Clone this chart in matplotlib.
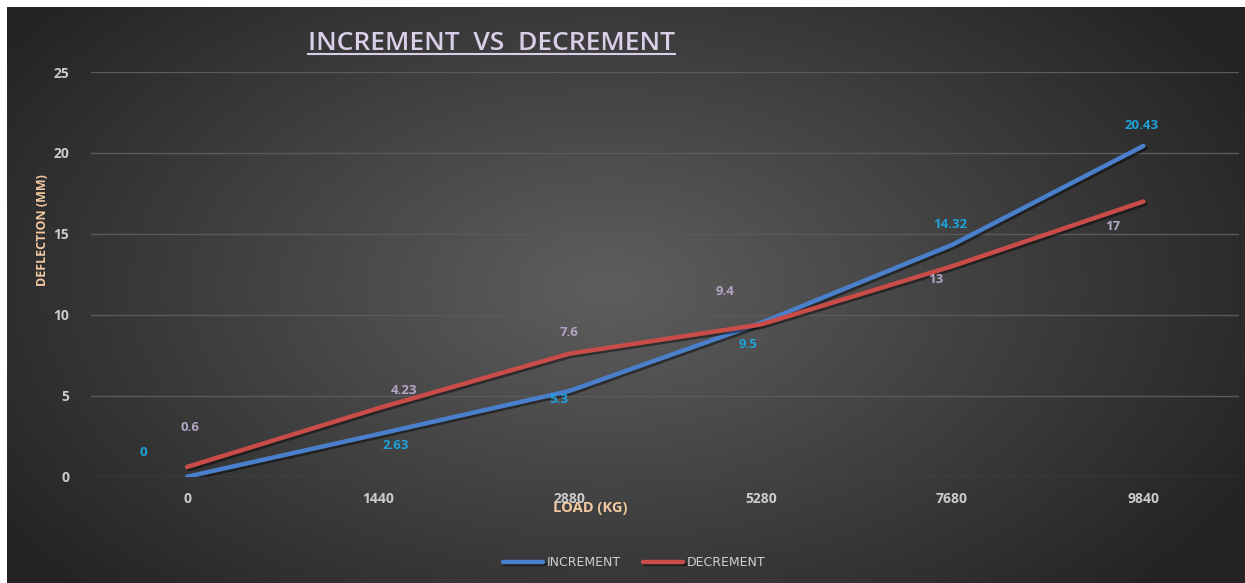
import numpy as np
import matplotlib.pyplot as plt
import matplotlib.patheffects as pe
from matplotlib.lines import Line2D

loads = ['0', '1440', '2880', '5280', '7680', '9840']
increment = [0, 2.63, 5.3, 9.5, 14.32, 20.43]
decrement = [0.6, 4.23, 7.6, 9.4, 13, 17]

# label offsets in pixels (Excel-ish placement)
inc_off = [(-44, 24), (17, -11), (-11, -9), (-13, -22), (-2, 20), (-2, 20)]
dec_off = [(3, 39), (26, 18), (-1, 21), (-36, 33), (-16, -13), (-31, -25)]

W, H = 1245, 583
fig = plt.figure(figsize=(W / 100, H / 100), dpi=100)
fig.patch.set_facecolor('white')

# radial gradient background
bg = fig.add_axes([7 / W, 0, 1 - 7 / W, 1 - 7 / H])
yy, xx = np.mgrid[0:576, 0:1238]
r = np.sqrt(((xx - 600) / 700.0) ** 2 + ((yy - 280) / 420.0) ** 2)
shade = np.clip(0.37 - 0.22 * r, 0.14, 0.37)
bg.imshow(np.dstack([shade] * 3), aspect='auto', extent=(0, 1, 0, 1))
bg.axis('off')

ax = fig.add_axes([91.4 / W, 1 - 476.7 / H, 1147.6 / W, 404.7 / H])
ax.patch.set_alpha(0)
x = np.arange(len(loads))

shadow = [pe.SimpleLineShadow(offset=(1.5, -1.5), alpha=0.45, shadow_color='black'), pe.Normal()]
ax.plot(x, increment, color='#4a7fcc', lw=3.2, label='INCREMENT', path_effects=shadow, solid_capstyle='round', zorder=3)
ax.plot(x, decrement, color='#c94c48', lw=3.2, label='DECREMENT', path_effects=shadow, solid_capstyle='round', zorder=3)

for i, v in enumerate(increment):
    ax.annotate(f'{v:g}', (x[i], v), xytext=inc_off[i], textcoords='offset pixels',
                ha='center', va='center', color='#1ea3dc', fontsize=9.5,
                fontweight='bold', family='Open Sans')
for i, v in enumerate(decrement):
    ax.annotate(f'{v:g}', (x[i], v), xytext=dec_off[i], textcoords='offset pixels',
                ha='center', va='center', color='#b3a5c6', fontsize=9.5,
                fontweight='bold', family='Open Sans')

ax.set_xlim(-0.5, len(loads) - 0.5)
ax.set_ylim(0, 25)
ax.set_yticks(range(0, 26, 5))
ax.set_xticks(x)
ax.set_xticklabels(loads)
ax.grid(axis='y', color='#5a5a5a', lw=1)
ax.set_axisbelow(True)
for s in ax.spines.values():
    s.set_visible(False)
ax.tick_params(length=0, colors='#cccccc', labelsize=10)
ax.tick_params(axis='y', pad=16)
ax.tick_params(axis='x', pad=11)
for lab in ax.get_xticklabels() + ax.get_yticklabels():
    lab.set_fontweight('bold')
    lab.set_family('Open Sans')

fig.text(43 / W, 1 - 230 / H, 'DEFLECTION (MM)', rotation=90, ha='center', va='center',
         color='#f3c9a2', fontsize=9, fontweight='bold', family='Open Sans')
fig.text(590 / W, 1 - 508 / H, 'LOAD (KG)', ha='center', va='center',
         color='#f3c9a2', fontsize=10.5, fontweight='bold', family='Open Sans')

title = fig.text(491 / W, 1 - 43 / H, 'INCREMENT  VS  DECREMENT', ha='center', va='center',
                 color='#d9cfe8', fontsize=19, fontweight='semibold', family='Open Sans')
fig.canvas.draw()
bb = title.get_window_extent()
fig.add_artist(Line2D([bb.x0 / W, bb.x1 / W], [(bb.y0 + 2) / H] * 2, color='#d9cfe8', lw=1.5))

leg = fig.legend(loc='center', bbox_to_anchor=(634 / W, 1 - 563 / H), ncol=2, frameon=False,
                 fontsize=9, handlelength=3.2, columnspacing=1.8, handletextpad=0.3)
for t in leg.get_texts():
    t.set_color('#d0d0d0')

fig.savefig('out.png', dpi=100, facecolor=fig.get_facecolor())
